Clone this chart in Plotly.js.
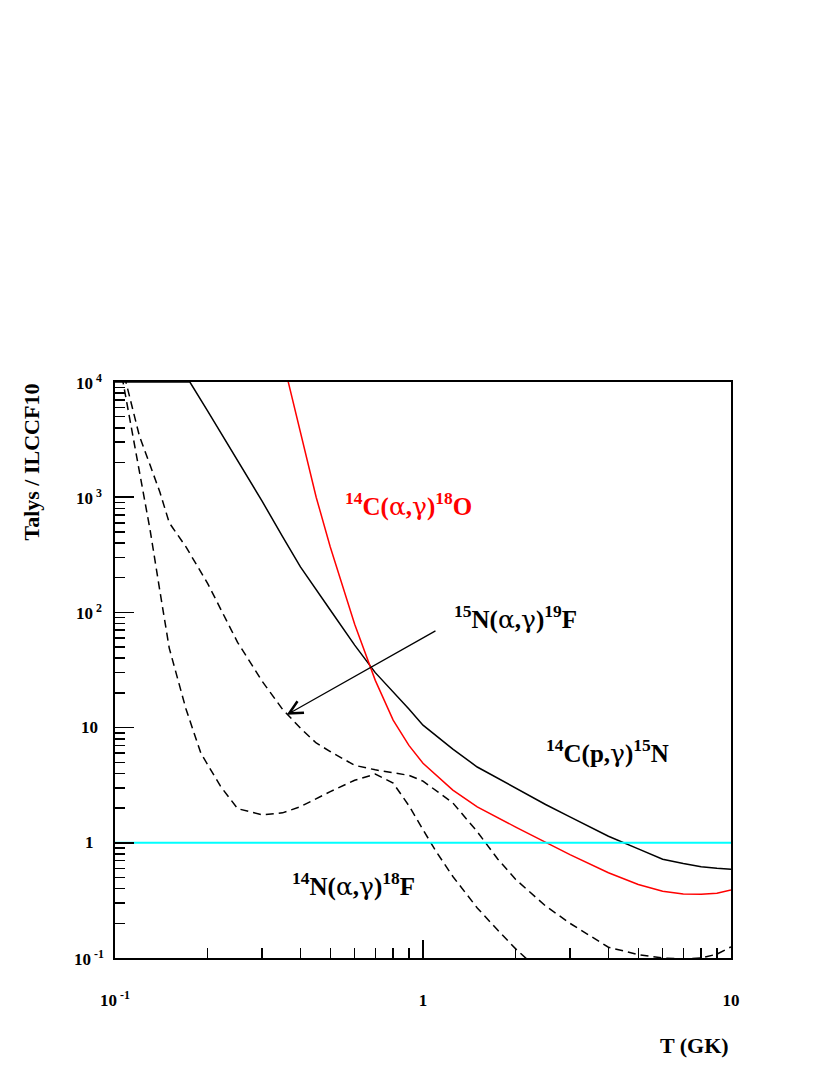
<!DOCTYPE html>
<html><head><meta charset="utf-8">
<script src="https://cdn.plot.ly/plotly-3.0.1.min.js"></script>
<style>html,body{margin:0;padding:0;background:#fff;} #plot{width:830px;height:1075px;}</style>
</head><body><div id="plot"></div>
<script>
// 14C(p,g)15N  (black solid)
const cpgT = [0.1, 0.175, 0.2, 0.25, 0.3, 0.35, 0.4, 0.5, 0.6, 0.7, 0.8, 0.9, 1.0, 1.25, 1.5, 2, 2.5, 3, 4, 5, 6, 7, 8, 9, 10];
const cpgR = [1e4, 1e4, 5580, 2110, 929, 455, 248, 105, 52, 30, 20.5, 14.5, 10.5, 6.5, 4.55, 2.98, 2.15, 1.68, 1.14, 0.885, 0.72, 0.66, 0.62, 0.60, 0.59];
// 14C(a,g)18O  (red solid)
const cagT = [0.35, 0.4, 0.45, 0.5, 0.55, 0.6, 0.7, 0.8, 0.9, 1.0, 1.25, 1.5, 2, 2.5, 3, 4, 5, 6, 7, 8, 9, 10];
const cagR = [16000, 3550, 1000, 370, 166, 79, 25.7, 11.6, 7.0, 4.9, 2.87, 2.05, 1.37, 1.01, 0.79, 0.55, 0.434, 0.38, 0.36, 0.357, 0.365, 0.39];
// 15N(a,g)19F  (upper dashed)
const nagT = [0.1, 0.11, 0.12, 0.13, 0.14, 0.15, 0.17, 0.2, 0.25, 0.3, 0.35, 0.4, 0.45, 0.5, 0.6, 0.7, 0.8, 0.9, 1.0, 1.25, 1.5, 1.75, 2, 2.5, 3, 4, 5, 6, 7, 8, 9, 10];
const nagR = [24000, 8500, 3400, 1900, 1100, 600, 370, 178, 55, 25.4, 14.4, 9.9, 7.35, 6.2, 4.7, 4.3, 4.06, 3.85, 3.43, 2.22, 1.25, 0.72, 0.48, 0.283, 0.2, 0.124, 0.107, 0.1, 0.098, 0.1, 0.108, 0.125];
// 14N(a,g)18F  (lower dashed)
const nanT = [0.1, 0.11, 0.12, 0.13, 0.14, 0.15, 0.17, 0.19, 0.22, 0.25, 0.3, 0.35, 0.4, 0.45, 0.5, 0.6, 0.7, 0.8, 0.9, 1.0, 1.1, 1.25, 1.5, 1.75, 2.0, 2.2];
const nanR = [24000, 5900, 1650, 520, 151, 49, 14.5, 6.0, 3.1, 1.98, 1.75, 1.82, 2.06, 2.42, 2.78, 3.49, 3.95, 3.3, 2.1, 1.3, 0.85, 0.51, 0.272, 0.174, 0.12, 0.095];
// ratio = 1 reference line
const unityT = [0.1, 10];
const unityR = [1, 1];

const xTickVals = [0.1, 1, 10];
const xTickText = ['10<sup> -1</sup>', '1', '10'];
const yTickVals = [0.1, 1, 10, 100, 1000, 10000];
const yTickText = ['10<sup> -1</sup>', '1', '10', '10<sup> 2</sup>', '10<sup> 3</sup>', '10<sup> 4</sup>'];

const L = 115, Rm = 99, Tm = 382, Bm = 117;
const W = 830 - L - Rm, H = 1075 - Tm - Bm;
const px = x => (x - L) / W;
const py = y => (1075 - Bm - y) / H;

function minorVals(d0, d1) {
  const v = [];
  for (let d = d0; d <= d1; d++) for (let k = 2; k <= 9; k++) v.push(k * Math.pow(10, d));
  return v;
}

const FONT = 'Liberation Serif, Times New Roman, serif';
const dash = '8px,5px';
const G = s => "<span style=\"font-family:'DejaVu Serif';font-weight:normal\">" + s + '</span>';
const reac = (a, X, proj, b, Y) => '<sup>' + a + '</sup>' + X + '(' + proj + ',' + G('γ') + ')<sup>' + b + '</sup>' + Y;

const traces = [
  {x: nanT, y: nanR, mode: 'lines', line: {color: 'black', width: 1.5, dash: dash}, hoverinfo: 'skip'},
  {x: nagT, y: nagR, mode: 'lines', line: {color: 'black', width: 1.5, dash: dash}, hoverinfo: 'skip'},
  {x: cpgT, y: cpgR, mode: 'lines', line: {color: 'black', width: 1.5}, hoverinfo: 'skip'},
  {x: cagT, y: cagR, mode: 'lines', line: {color: '#ff0000', width: 1.5}, hoverinfo: 'skip'},
  {x: unityT, y: unityR, mode: 'lines', line: {color: '#00ffff', width: 2}, hoverinfo: 'skip'}
];

const tickFont = {family: FONT, size: 17, color: 'black', weight: 'bold'};
const axisCommon = {
  showgrid: false, zeroline: false, showline: true, mirror: true,
  linecolor: 'black', linewidth: 2, ticks: 'inside', tickcolor: 'black',
  tickwidth: 1.5, tickmode: 'array', tickfont: tickFont
};

const lblFont = c => ({family: FONT, size: 25, color: c, weight: 'bold'});

// y tick labels centred like the original (drawn as annotations on the y scale)
const yLabelAnns = yTickVals.map((v, i) => ({
  xref: 'paper', yref: 'y', x: px(89), y: Math.log10(v), xanchor: 'center', yanchor: 'middle',
  showarrow: false, text: yTickText[i], font: tickFont
}));

const layout = {
  width: 830, height: 1075,
  paper_bgcolor: 'white', plot_bgcolor: 'white',
  showlegend: false,
  margin: {l: L, r: Rm, t: Tm, b: Bm},
  xaxis: Object.assign({}, axisCommon, {
    type: 'log', range: [-1, 1], tickvals: xTickVals, ticktext: xTickText,
    ticklen: 18, ticklabelstandoff: 26,
    minor: {tickmode: 'array', tickvals: minorVals(-1, 0), ticks: 'inside', ticklen: 10, tickwidth: 1.5, tickcolor: 'black', showgrid: false}
  }),
  yaxis: Object.assign({}, axisCommon, {
    type: 'log', range: [-1, 4], tickvals: yTickVals, ticktext: yTickText, showticklabels: false,
    ticklen: 19,
    minor: {tickmode: 'array', tickvals: minorVals(-1, 3), ticks: 'inside', ticklen: 10, tickwidth: 1.5, tickcolor: 'black', showgrid: false}
  }),
  annotations: yLabelAnns.concat([
    {xref: 'paper', yref: 'paper', x: 1, y: py(1045), xanchor: 'right', yanchor: 'middle', showarrow: false,
     text: 'T (GK)', font: {family: FONT, size: 22, color: 'black', weight: 'bold'}},
    {xref: 'paper', yref: 'paper', x: px(31), y: 1, xanchor: 'center', yanchor: 'top', showarrow: false, textangle: -90,
     text: 'Talys / ILCCF10', font: {family: FONT, size: 22, color: 'black', weight: 'bold'}},
    {xref: 'paper', yref: 'paper', x: px(408), y: py(504), xanchor: 'center', yanchor: 'middle', showarrow: false,
     text: reac('14', 'C', G('α'), '18', 'O'), font: lblFont('#ff0000')},
    {xref: 'paper', yref: 'paper', x: px(515), y: py(617), xanchor: 'center', yanchor: 'middle', showarrow: false,
     text: reac('15', 'N', G('α'), '19', 'F'), font: lblFont('black')},
    {xref: 'paper', yref: 'paper', x: px(607), y: py(751), xanchor: 'center', yanchor: 'middle', showarrow: false,
     text: reac('14', 'C', 'p', '15', 'N'), font: lblFont('black')},
    {xref: 'paper', yref: 'paper', x: px(353), y: py(884), xanchor: 'center', yanchor: 'middle', showarrow: false,
     text: reac('14', 'N', G('α'), '18', 'F'), font: lblFont('black')},
    {xref: 'x', yref: 'y', axref: 'x', ayref: 'y',
     x: Math.log10(0.361), y: Math.log10(12.9), ax: Math.log10(1.11), ay: Math.log10(70.3),
     text: '', showarrow: true, arrowhead: 5, arrowsize: 2, arrowwidth: 1.3, arrowcolor: 'black'}
  ])
};

Plotly.newPlot('plot', traces, layout, {staticPlot: true, displayModeBar: false});
</script>
</body></html>
